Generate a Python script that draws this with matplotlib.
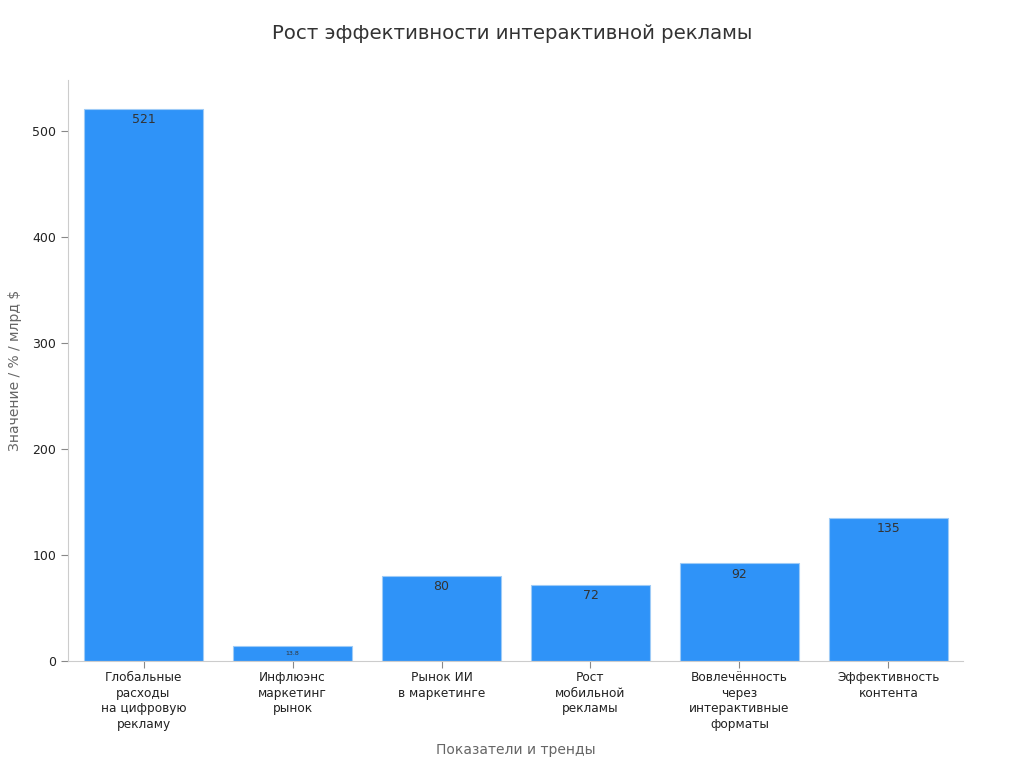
import matplotlib
matplotlib.use("Agg")
import matplotlib.pyplot as plt

categories = [
    "Глобальные\nрасходы\nна цифровую\nрекламу",
    "Инфлюэнс\nмаркетинг\nрынок",
    "Рынок ИИ\nв маркетинге",
    "Рост\nмобильной\nрекламы",
    "Вовлечённость\nчерез\nинтерактивные\nформаты",
    "Эффективность\nконтента",
]
values = [521, 13.8, 80, 72, 92, 135]
value_labels = ["521", "13.8", "80", "72", "92", "135"]
yticks = [0, 100, 200, 300, 400, 500]

plt.rcParams["font.family"] = ["DejaVu Sans"]
fig = plt.figure(figsize=(10.24, 7.68), dpi=100)
ax = fig.add_axes([0.0664, 0.1393, 0.874, 0.7565])

x = list(range(len(categories)))
bars = ax.bar(x, values, width=0.8, color="#2f93f8", edgecolor="#9ecbf7", linewidth=0.8)

for xi, v, lab in zip(x, values, value_labels):
    fs = 4.5 if v < 20 else 9
    ax.text(xi, v - 4, lab, ha="center", va="top", fontsize=fs, color="#333333")

ax.set_xlim(-0.507, 5.5)
ax.set_ylim(0, 548)
ax.set_xticks(x)
ax.set_xticklabels(categories, fontsize=8.7, color="#222222", linespacing=1.25)
ax.set_yticks(yticks)
ax.set_yticklabels([str(t) for t in yticks], fontsize=9, color="#222222")
ax.tick_params(axis="both", color="#888888", length=5)
ax.tick_params(axis="x", pad=2.5)
for s in ["top", "right"]:
    ax.spines[s].set_visible(False)
for s in ["left", "bottom"]:
    ax.spines[s].set_color("#cccccc")

ax.set_xlabel("Показатели и тренды", fontsize=10, color="#666666", labelpad=9)
ax.set_ylabel("Значение / % / млрд $", fontsize=10, color="#666666", labelpad=7)
fig.text(0.5, 0.957, "Рост эффективности интерактивной рекламы", ha="center", va="center",
         fontsize=14.2, color="#333333")

fig.savefig("out.png", dpi=100)
